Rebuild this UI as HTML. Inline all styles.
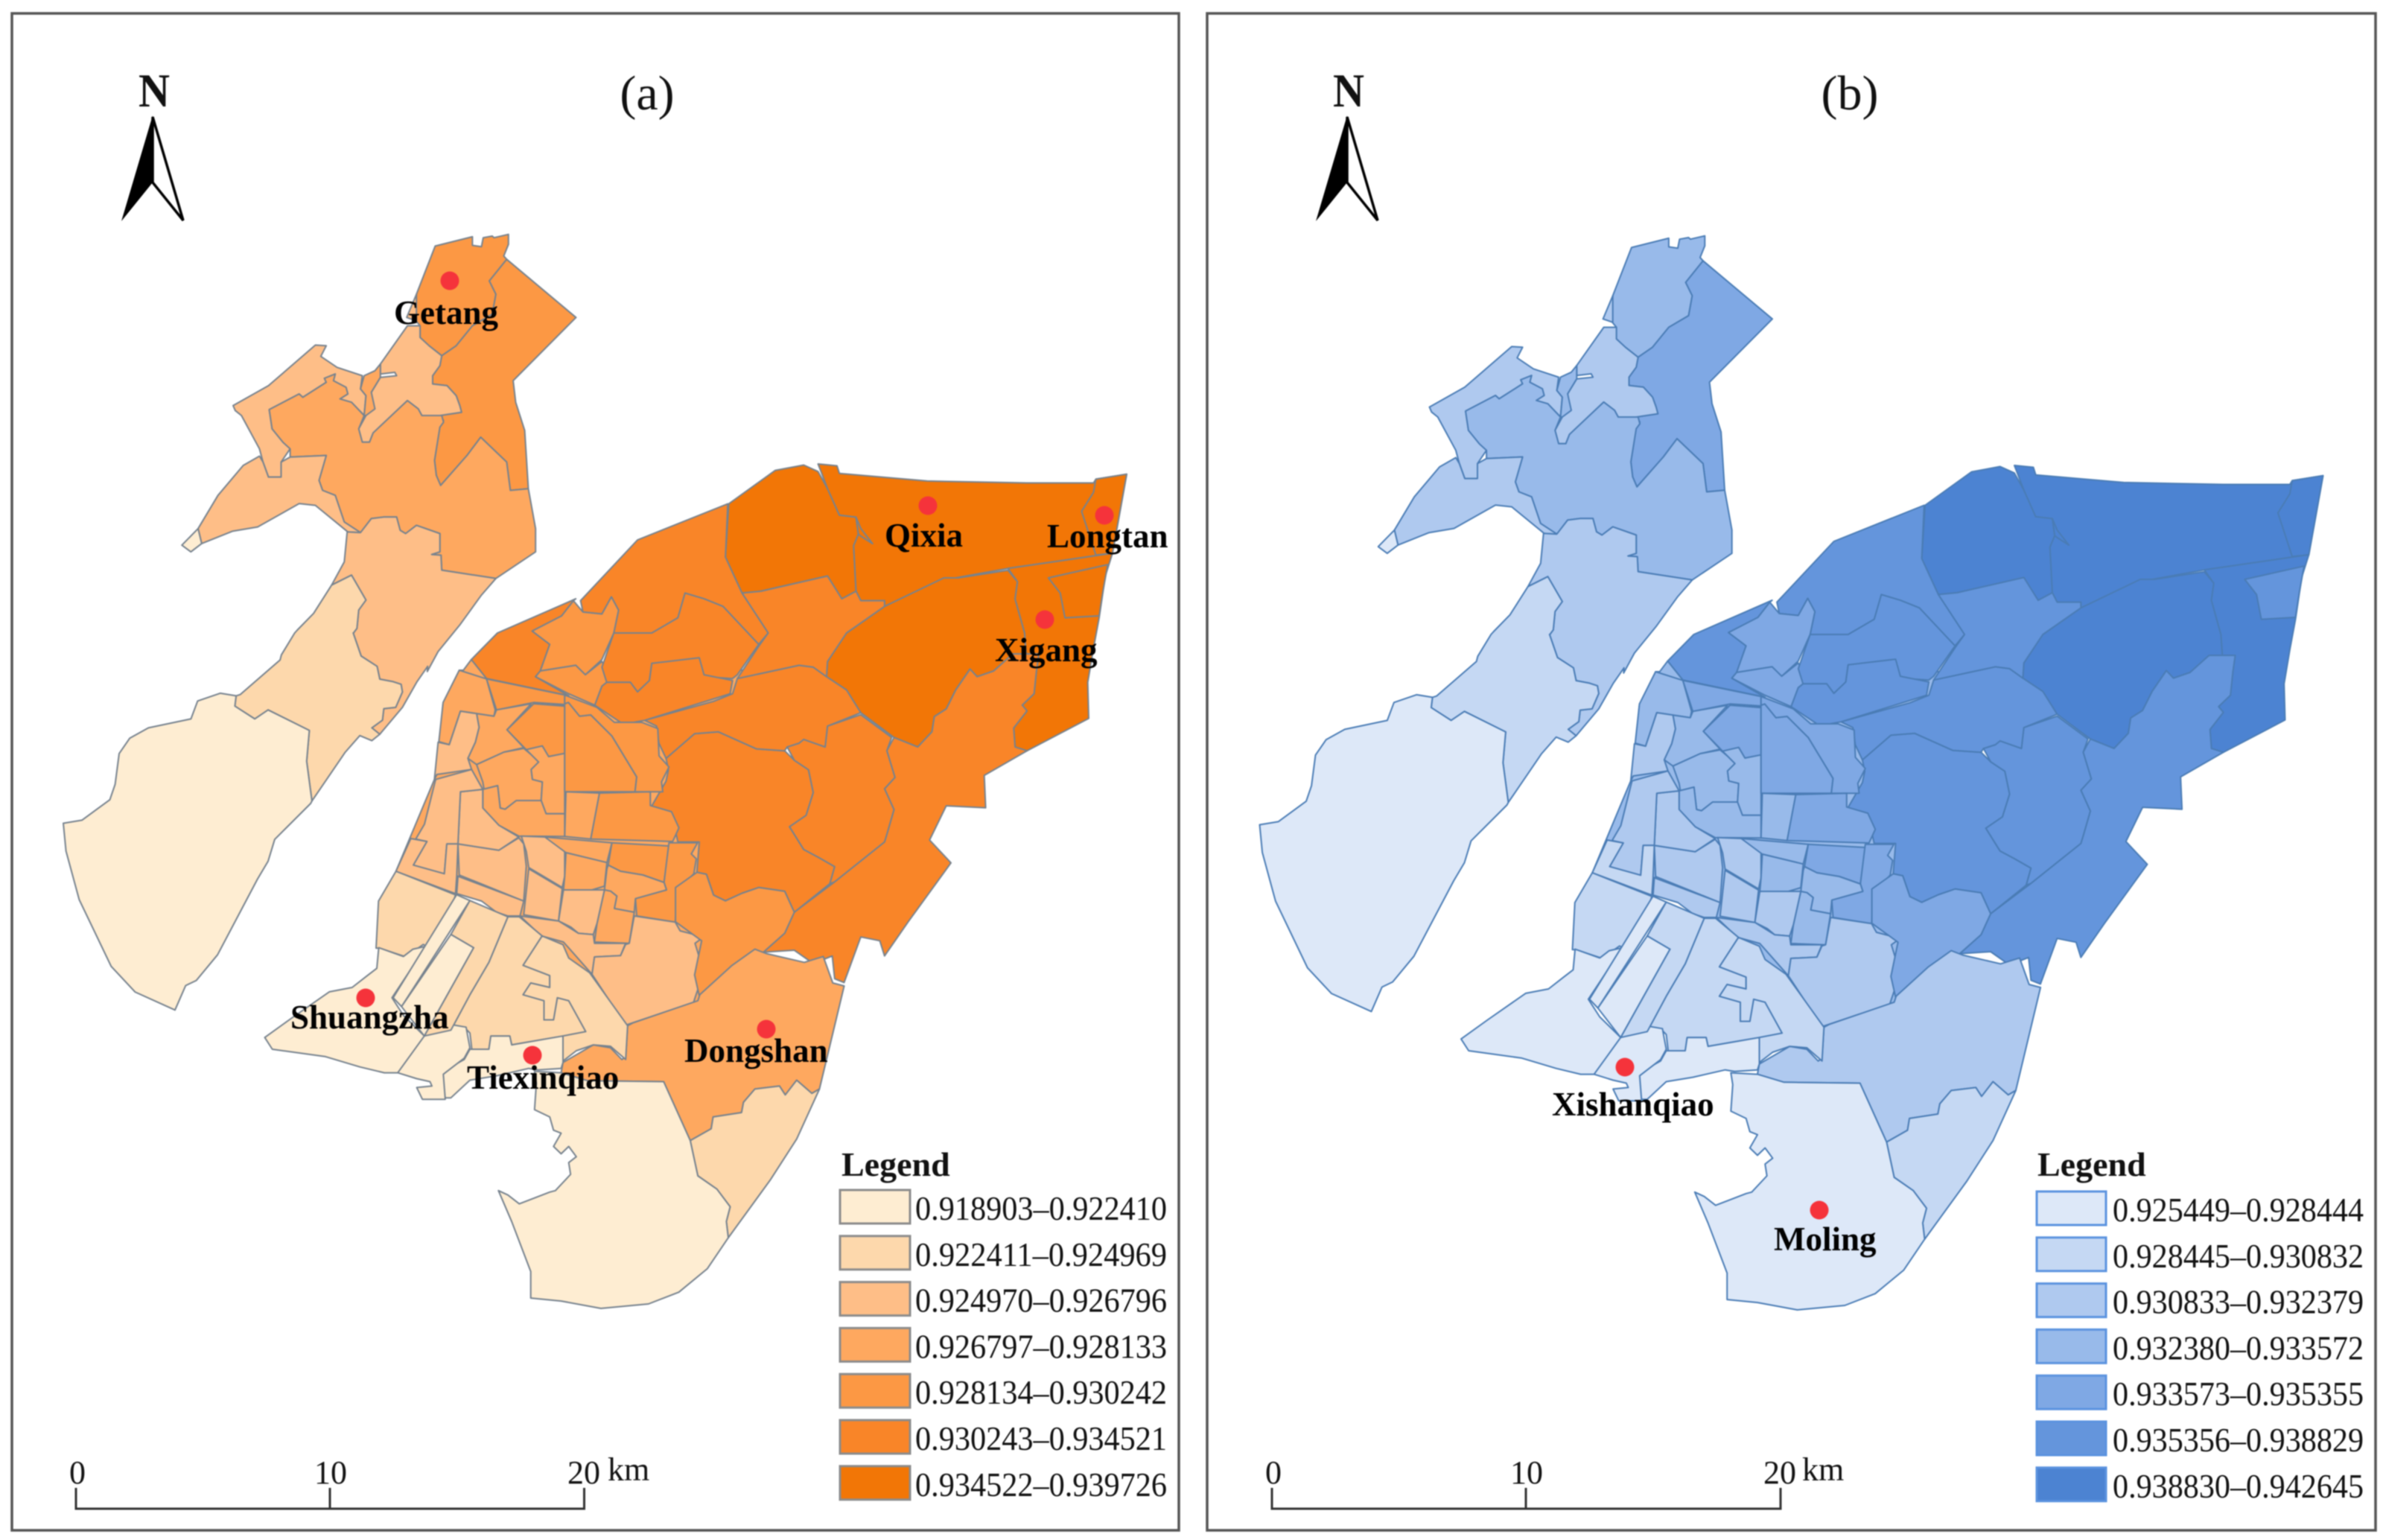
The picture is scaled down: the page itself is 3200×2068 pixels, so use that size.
<!DOCTYPE html>
<html>
<head>
<meta charset="utf-8">
<title>Choropleth maps (a) and (b)</title>
<style>
html,body{margin:0;padding:0;background:#fff;}
svg{display:block;filter:blur(0.7px);}
text{font-family:"Liberation Serif","Times New Roman",serif;fill:#111;}
.place{font-weight:bold;font-size:45px;fill:#000;}
.tick{font-size:44px;}
</style>
</head>
<body>
<svg id="chart" xmlns="http://www.w3.org/2000/svg" width="3200" height="2068" viewBox="0 0 3200 2068">
  <rect x="0" y="0" width="3200" height="2068" fill="#fff"/>
  <rect x="16" y="18" width="1567" height="2037" fill="none" stroke="#555" stroke-width="3.5"/>
  <rect x="1621" y="18" width="1569" height="2037" fill="none" stroke="#555" stroke-width="3.5"/>
  <g id="map-a"></g>
  <g id="map-b"></g>
  <g id="legend-a"></g>
  <g id="legend-b"></g>
  <g id="points"></g>

  <text x="869" y="147" font-size="66" text-anchor="middle">(a)</text>
  <text x="2484" y="147" font-size="66" text-anchor="middle">(b)</text>

  <g>
    <text x="186" y="143" font-size="64" font-weight="bold" textLength="42" lengthAdjust="spacingAndGlyphs">N</text>
    <polygon points="205,157 246,296 205,245" fill="#fff" stroke="#000" stroke-width="3.5"/>
    <polygon points="205,155 163,297 205,245" fill="#000"/>
  </g>
  <g>
    <text x="1790" y="143" font-size="64" font-weight="bold" textLength="42" lengthAdjust="spacingAndGlyphs">N</text>
    <polygon points="1809,157 1850,296 1809,245" fill="#fff" stroke="#000" stroke-width="3.5"/>
    <polygon points="1809,155 1767,297 1809,245" fill="#000"/>
  </g>

  <g fill="none" stroke="#333" stroke-width="3">
    <path d="M102,1998V2026H784.5V1998M443,1998V2026"/>
  </g>
  <text class="tick" x="104" y="1992" text-anchor="middle">0</text>
  <text class="tick" x="444" y="1992" text-anchor="middle">10</text>
  <text class="tick" x="784" y="1992" text-anchor="middle">20</text>
  <text class="tick" x="816" y="1988">km</text>

  <g fill="none" stroke="#333" stroke-width="3">
    <path d="M1708,1998V2026H2391V1998M2049,1998V2026"/>
  </g>
  <text class="tick" x="1710" y="1992" text-anchor="middle">0</text>
  <text class="tick" x="2050" y="1992" text-anchor="middle">10</text>
  <text class="tick" x="2390" y="1992" text-anchor="middle">20</text>
  <text class="tick" x="2420" y="1988">km</text>

  <g>
    <text class="place" x="529" y="435">Getang</text>
    <text class="place" x="1188" y="734">Qixia</text>
    <text class="place" x="1406" y="735">Longtan</text>
    <text class="place" x="1336" y="888">Xigang</text>
    <text class="place" x="390" y="1381">Shuangzha</text>
    <text class="place" x="627" y="1462">Tiexinqiao</text>
    <text class="place" x="919" y="1426">Dongshan</text>
    <text class="place" x="2084" y="1498">Xishanqiao</text>
    <text class="place" x="2382" y="1679">Moling</text>
  </g>
</svg>
<script>
// ---- Legend values ----
const legendLabelsA = ["0.918903–0.922410","0.922411–0.924969","0.924970–0.926796","0.926797–0.928133","0.928134–0.930242","0.930243–0.934521","0.934522–0.939726"];
const legendLabelsB = ["0.925449–0.928444","0.928445–0.930832","0.930833–0.932379","0.932380–0.933572","0.933573–0.935355","0.935356–0.938829","0.938830–0.942645"];
const coloursA = ["#FEEDD2","#FDD8AC","#FEBE87","#FEA85F","#FC9844","#F98528","#F27606"];
const coloursB = ["#DDE8F8","#C5D8F3","#AFC9EF","#98BAEA","#7FA8E4","#6495DC","#4C83D2"];

// ---- Map geography: letters pick the survey frame for the outline vertices that follow ----
const regionNames = [
 "urban-underlay","getang-west","getang-sliver","getang-east","northwest-strip","north-central","north-inlet","central-north","southwest-lobe","river-tip",
 "north-south-lobe","riverside-belt","west-floodplain",
 "northmid-dark","qixia-dark","qixia-creek","longtan-dark","east-blob-dark","xigang-strip","xigang-block",
 "east-south-long","centre-south-big","centre-east-narrow","centre-upper","north-centre","north-coast","coast-ward-a","coast-ward-b","coast-west","middle-north","ward-410",
 "ward-162","coast-left",
 "u1","u2","u3","u4","u5","u6","u7","u8","u9","u10","u12","u13","u14","u15","u16","u17","u18","u19","u20","u21","u22","u23","u24","u25","u26","u27","u28","u29","u30",
 "southeast-ward","dongshan","southeast-edge","moling","xishan-mid","xishan-upper","tiexinqiao-zone","xishanqiao-zone","shuangzha","corridor","airport","airport-east"
];
const regionShapes = [
 "D 350,0 1500,0 1500,1300 1020,1430 760,1200 350,830 95,810 250,440",
 "A 1082,180 1185,152 1185,178 1210,182 1215,155 1240,150 1245,155 1285,145 1285,175 1272,210 1280,220 1232,285 1250,325 1240,385 1185,420 1140,480 1100,510 1065,480 1040,455 1040,420 1025,400 1030,325",
 "A 1030,325 1003,395 1030,405",
 "A 1280,220 1472,395 1298,585 1305,650 1330,735 1340,910 1290,915 1280,830 1208,755 1170,810 1097,900 1085,870 1080,825 1095,720 1105,705 1095,690 1155,680 1150,660 1140,630 1115,600 1075,595 1075,570 1095,540 1100,510 1140,480 1185,420 1240,385 1250,325 1232,285",
 "A 522,660 620,600 750,478 780,480 765,512 810,545 880,570 875,610 890,630 885,690 850,650 818,640 840,625 835,605 800,585 805,565 775,578 780,590 715,635 705,625 622,672 630,730 660,770 680,790 655,830 655,875 620,875 605,830 595,790 545,690 528,675",
 "A 1005,420 1040,420 1040,455 1065,480 1100,510 1095,540 1075,570 1075,595 1115,600 1140,630 1150,660 1155,680 1095,690 1045,690 1035,670 1005,645 910,742 900,770 880,770 870,730 890,690 910,660 905,620 930,575 975,570 970,560 930,565 930,535",
 "A 930,535 930,575 905,620 915,670 890,690 885,690 890,630 875,610 885,570 915,555",
 "A 622,672 705,625 715,635 780,590 775,578 805,565 800,585 835,605 840,625 818,640 850,650 885,690 870,730 880,770 900,770 910,742 1005,645 1035,670 1045,690 1100,690 1105,710 1095,725 1080,825 1085,870 1097,900 1170,810 1208,755 1280,830 1290,915 1340,910 1360,1030 1360,1100 1250,1180 1100,1155 1098,1110 1072,1108 1095,1100 1095,1045 1030,1020 1000,1045 985,1035 975,995 940,995 905,1000 875,1042 830,1010 805,930 770,915 760,885 780,810 680,815 680,790 660,770 630,730",
 "A 595,812 605,830 620,875 655,875 655,830 680,815 780,810 760,885 770,915 805,930 830,1010 875,1042 840,1040 750,960 705,955 590,1025 520,1038 435,1075 425,1030 480,930 550,840",
 "A 425,1030 435,1075 405,1100 380,1080",
 "A 875,1042 905,1000 940,995 975,995 985,1035 1000,1045 1030,1020 1095,1045 1095,1100 1072,1108 1098,1110 1100,1155 1250,1180 1210,1230 1150,1320 1090,1400 1060,1460 E 1440,130 1400,190 1345,290 1260,395 1230,370 1270,340 1275,295 1320,290 1345,230 1340,200 1310,190 1260,180 1250,130 1190,90 1160,0 A 855,1345 865,1330 870,1275 890,1245 850,1170 795,1200 830,1130 838,1040",
 "A 795,1200 850,1170 890,1245 870,1275 865,1330 855,1345 E 1160,0 1190,90 1250,130 1260,180 1310,190 1340,200 1345,230 1320,290 1275,295 1270,340 1230,370 1260,395 1230,420 1185,400 1130,465 1005,655 985,500 995,380 840,300 790,335 715,285 720,245 735,240 885,105 890,85 940,0 A 700,1335 745,1285",
 "E 720,245 660,235 575,265 550,335 390,370 320,410 280,470 265,590 245,650 140,730 70,742 80,850 130,1040 250,1300 340,1400 490,1470 530,1375 570,1355 650,1255 800,960 840,890 865,805 1000,665 1005,655 985,500 995,380 840,300 790,335 715,285",
 "B 672,150 770,62 830,48 860,65 880,110 905,180 940,185 945,230 935,260 940,380 910,400 880,340 740,380 700,385 665,290",
 "B 860,45 900,50 905,70 1090,90 1300,95 1440,95 1445,85 1510,72 1480,280 1260,320 1150,345 1000,420 1000,405 950,405 940,380 935,260 945,230 940,185 905,180 880,110",
 "B 940,185 950,215 975,255 950,235 945,230",
 "B 1445,85 1510,72 1480,280 1445,285 1415,170 1440,120",
 "B 1000,420 1125,345 1155,345 1260,325 1280,355 1275,400 1295,490 1298,545 1270,545 1230,590 1195,605 1180,585 1150,640 1130,690 1105,710 1100,750 1070,790 1020,765 950,700 920,640 878,605 880,565 920,490",
 "B 1260,320 1480,280 1465,340 1452,450 1440,530 1428,620 1430,715 1300,800 1275,790 1272,740 1300,695 1290,680 1315,650 1320,590 1325,545 1298,545 1295,490 1275,400 1280,355",
 "B 1345,345 1470,310 1460,380 1452,445 1380,450 1370,385",
 "B 1020,765 1070,790 1100,750 1105,710 1130,690 1150,640 1180,585 1195,605 1230,590 1270,545 1298,545 1325,545 1320,590 1315,650 1290,680 1300,695 1272,740 1275,790 1300,800 1210,865 1213,950 1130,945 1095,1035 1140,1095 1050,1250 1000,1340 990,1300 950,1290 915,1410 895,1400 890,1340 850,1360 810,1325 745,1330 790,1280 810,1225 890,1150 1000,1040 1005,1020 1020,955 1000,900 1022,870 1005,800",
 "B 540,820 600,755 650,750 730,795 790,800 810,825 840,850 850,910 835,970 800,1000 830,1060 860,1080 895,1105 885,1150 810,1225 790,1170 735,1160 700,1175 665,1195 640,1180 625,1125 605,1120 610,1040 565,1040 555,985 510,945 540,880 545,850",
 "B 830,770 875,790 880,735 950,705 1015,765 1005,800 1022,870 1000,900 1020,955 1005,1020 1000,1040 895,1145 885,1150 895,1105 860,1080 830,1060 800,1000 835,970 850,910 840,850 810,825 795,790 820,780",
 "B 495,720 640,670 680,650 690,610 820,575 850,580 878,605 920,640 950,700 880,735 875,790 830,770 820,780 795,790 790,800 730,795 650,750 600,755 540,820 525,780 520,735",
 "B 700,385 740,380 880,340 910,400 940,380 950,405 1000,405 1000,420 920,490 880,565 878,605 850,580 820,575 690,610 735,525 755,490",
 "B 360,405 480,245 670,150 665,290 700,385 755,490 735,520 660,420 620,400 580,385 565,450 510,490 430,490 440,430 425,395 405,440 365,435",
 "B 258,485 320,445 345,405 365,435 405,440 425,395 440,430 430,490 405,560 370,600 350,575 275,590 295,520",
 "B 265,605 275,590 350,575 370,600 405,565 425,610 405,630 390,680 335,650",
 "B 130,560 185,490 350,400 345,405 320,445 258,485 295,520 275,590 265,605 335,655 162,610",
 "B 430,490 510,490 565,450 580,385 620,400 660,420 735,520 690,600 680,610 620,605 610,560 510,570 505,615 480,645 465,620 415,620 405,580",
 "B 415,620 465,620 480,645 505,615 510,570 610,555 620,600 680,615 675,650 495,720 450,730 390,680 405,630",
 "B 162,610 335,655 330,680 265,680 180,695",
 "B 130,560 162,610 180,695 140,700 100,700 90,780 65,775 70,680 100,610",
 "D 350,0 460,35 495,160 490,185 355,165 310,300 268,288 285,130",
 "D 460,35 775,100 775,138 650,130 500,160",
 "D 650,135 775,145 775,335 710,348 685,305 620,320 542,240",
 "D 500,160 640,135 542,240 610,312 530,330 420,380 385,355 415,290 430,230 420,175 490,185",
 "D 355,165 420,175 430,230 415,290 385,355 400,400 260,420 250,440 265,290 310,300",
 "D 610,315 640,340 670,370 640,400 645,440 685,450 680,525 580,525 535,560 515,555 505,465 450,480 445,450 420,380 530,330",
 "D 685,305 710,348 775,335 775,578 700,578 680,525 685,450 645,440 640,400 670,370 620,320",
 "D 445,480 505,465 515,555 535,560 580,525 680,525 700,578 775,578 775,670 590,668 510,625 445,555",
 "D 790,130 835,185 880,180 965,265 1065,430 1058,490 775,490 775,135",
 "D 775,100 905,150 975,210 1085,210 1150,235 1155,345 1195,390 1165,450 1170,490 1058,490 1065,430 965,265 880,180 835,185 790,130 775,135",
 "D 780,490 915,495 880,680 775,670",
 "D 915,495 1120,490 1120,545 1205,570 1235,635 1210,690 880,680",
 "D 600,668 695,672 775,720 775,830 765,875 630,795 620,730",
 "D 695,672 965,695 945,775 780,735",
 "D 780,735 945,775 935,870 885,885 770,885 775,830",
 "D 965,695 1195,708 1175,855 1090,825 1000,810 950,785",
 "D 1195,695 1310,695 1285,740 1305,760 1295,820 1230,885 1220,1015 1065,990 1060,920 1185,885 1175,855",
 "D 950,785 1000,810 1090,825 1175,855 1185,885 1060,920 1055,975 975,960 985,910 960,890 935,885 945,800",
 "D 935,885 960,890 985,910 975,960 1055,975 1035,1100 895,1095 905,1020",
 "D 770,885 885,885 935,885 905,1020 890,1065 830,1060 800,1035 750,1010",
 "D 630,800 765,880 750,1010 610,985",
 "D 345,700 510,725 590,675 610,700 620,790 610,930 350,825",
 "D 345,830 610,930 595,990 545,990 500,975 440,930 340,900",
 "D 355,490 445,480 445,555 510,625 590,672 510,725 345,700",
 "D 255,440 400,400 445,480 355,490 345,700 300,700 290,820 165,785 220,690 175,680 210,620",
 "D 155,678 220,690 165,785 290,820 300,700 345,700 340,830 335,900 95,810",
 "D 95,810 335,905 310,985 225,1115 205,1105 135,1155 30,1120 15,1120 25,930",
 "D 595,990 750,1010 830,1060 890,1065 895,1100 1020,1100 1000,1150 895,1155 885,1225 770,1095 680,1070",
 "D 895,1155 1000,1150 1020,1105 1035,1100 1055,990 1220,1015 1240,1050 1335,1075 1300,1100 1335,1215 1300,1320 1290,1350 1170,1380 1020,1430 885,1225",
 "B 560,1160 605,1120 625,1125 640,1180 665,1195 700,1175 735,1160 790,1170 810,1225 790,1280 745,1330 680,1390 610,1445 600,1390 615,1300 560,1250",
 "C 1005,575 1020,565 1190,490 1195,470 1280,370 1340,315 1370,330 1470,360 1520,340 1545,430 1575,440 1510,790 1490,805 1450,760 1420,810 1405,780 1340,790 1310,835 1305,870 1230,885 1225,925 1170,965 1100,765 900,762 830,735 835,700 915,640 960,650 990,690 1000,680",
 "C 1170,965 1225,925 1230,885 1305,870 1310,835 1340,790 1405,780 1420,810 1450,760 1490,805 1510,790 1450,960 1380,1100 1270,1295 1265,1240 1275,1190 1240,1130 1190,1085",
 "C 765,770 760,730 830,735 900,762 1100,765 1170,965 1190,1085 1240,1130 1275,1190 1265,1240 1270,1295 1215,1400 1140,1480 1060,1520 935,1535 830,1510 750,1500 750,1410 700,1240 665,1135 690,1150 720,1180 760,1160 800,1140 815,1135 855,1080 850,1040 870,1020 850,985 830,1010 810,985 830,940 810,930 800,885 760,860",
 "C 690,205 720,205 780,270 730,370 800,405 800,445 750,430 730,470 785,490 785,555 810,555 820,480 850,490 895,595 835,610 700,640 695,610 645,610 640,655 595,655 590,600 575,580 540,590 590,470 640,360",
 "C 780,270 835,300 850,345 905,395 1005,575 1000,690 960,645 915,640 870,660 835,695 835,610 895,595 850,490 820,480 810,555 785,555 785,490 730,470 750,430 800,445 800,405 730,370",
 "C 590,655 640,655 645,610 695,610 700,640 835,610 835,700 830,720 770,725 745,720 660,745 590,760 540,820 525,820 515,740 540,715 575,690",
 "C 465,600 535,570 580,580 590,650 575,685 520,740 525,825 465,825 450,785 490,780 485,765 450,755 400,735",
 "C 350,310 415,340 440,315 475,305 385,480 415,540 470,610 400,735 365,735 300,715 210,680 70,655 50,615 120,550 220,460 280,445 320,405 345,380",
 "C 555,130 590,150 410,510 388,480",
 "C 540,265 600,310 470,610 410,510",
 "C 590,150 690,205 640,360 590,470 540,590 470,610 600,310 540,265"
];
// class index of every region for each panel (which legend bin it falls in)
const classesA = [3,4,2,4,2,2,3,3,2,0,2,1,0, 6,6,6,6,6,6,6, 5,5,5,5,5,5,4,4,5,5,5, 4,3,
 3,4,4,3,2,3,3,3,4,4,3,4,2,3,3,4,4,3,3,2,2,2,2,2,2,2,1,2,2, 4,3,1,0,1,1,0,0,0,0,0,1];
const classesB = [3,3,2,4,2,2,3,3,2,0,2,1,0, 6,6,6,6,6,6,5, 5,5,5,5,5,5,4,4,5,5,5, 4,3,
 3,4,4,3,2,3,3,3,4,4,3,4,2,3,3,4,4,3,3,2,2,2,2,2,2,1,1,2,2, 4,2,1,0,1,1,0,0,0,0,0,1];

// ---- Place markers ----
const pointNames = ["getang","qixia","longtan","xigang","shuangzha","tiexinqiao","dongshan","xishanqiao","moling"];
const pointX = [604,1246,1483,1403,491,715,1029,2182,2443];
const pointY = [377,679,692,832,1340,1417,1382,1433,1625];

const frames = {
 A:{ox:60,oy:250,kx:760/1568,ky:700/1568},
 B:{ox:550,oy:600,kx:1000/1568,ky:800/1568},
 C:{ox:330,oy:1150,kx:800/1568,ky:620/1568},
 D:{ox:500,oy:900,kx:1/3,ky:1/3},
 E:{ox:60,oy:850,kx:560/1568,ky:540/1568}
};
const NS = "http://www.w3.org/2000/svg";

function project(shape, dx, dy){
  let f = frames.A, out = [];
  shape.split(/\s+/).forEach(function(tok){
    if(frames[tok]){ f = frames[tok]; return; }
    const p = tok.split(",");
    out.push(((f.ox + f.kx*parseFloat(p[0]) + dx).toFixed(1)) + "," + ((f.oy + f.ky*parseFloat(p[1]) + dy).toFixed(1)));
  });
  return out.join(" ");
}

function drawMap(targetId, classes, colours, stroke, dx, dy, prefix){
  const g = document.getElementById(targetId);
  regionShapes.forEach(function(shape, i){
    const el = document.createElementNS(NS, "polygon");
    
    
    el.setAttribute("points", project(shape, dx, dy));
    el.setAttribute("fill", colours[classes[i]]);
    el.setAttribute("stroke", stroke);
    el.setAttribute("stroke-width", "2");
    el.setAttribute("stroke-linejoin", "round");
    g.appendChild(el);
  });
}

function drawLegend(targetId, labels, colours, stroke, sx, sw, tx, tw, y0, titleX, prefix){
  const g = document.getElementById(targetId);
  const title = document.createElementNS(NS, "text");
  
  
  title.setAttribute("x", titleX);
  title.setAttribute("y", 1579);
  title.setAttribute("font-size", 46);
  title.setAttribute("font-weight", "bold");
  title.setAttribute("fill", "#000");
  title.textContent = "Legend";
  g.appendChild(title);
  labels.forEach(function(label, i){
    const y = y0 + i*61.8;
    const r = document.createElementNS(NS, "rect");
    
    
    r.setAttribute("x", sx); r.setAttribute("y", y);
    r.setAttribute("width", sw); r.setAttribute("height", 45);
    r.setAttribute("fill", colours[i]);
    r.setAttribute("stroke", stroke);
    r.setAttribute("stroke-width", 3);
    g.appendChild(r);
    const t = document.createElementNS(NS, "text");
    
    
    t.setAttribute("x", tx);
    t.setAttribute("y", y + 40);
    t.setAttribute("font-size", 46);
    t.setAttribute("textLength", tw);
    t.setAttribute("lengthAdjust", "spacingAndGlyphs");
    t.textContent = label;
    g.appendChild(t);
  });
}

drawMap("map-a", classesA, coloursA, "#76828E", 0, 0, "a");
drawMap("map-b", classesB, coloursB, "#4A7CB5", 1606.5, 2, "b");
drawLegend("legend-a", legendLabelsA, coloursA, "#8C8C8C", 1128, 94, 1229, 338, 1598, 1130, "a");
drawLegend("legend-b", legendLabelsB, coloursB, "#5B93DF", 2735, 93, 2837, 337, 1600, 2736, "b");

const pg = document.getElementById("points");
pointNames.forEach(function(name, i){
  const c = document.createElementNS(NS, "circle");
  
  
  c.setAttribute("cx", pointX[i]);
  c.setAttribute("cy", pointY[i]);
  c.setAttribute("r", 12.5);
  c.setAttribute("fill", "#F5333B");
  pg.appendChild(c);
});
</script>
</body>
</html>
